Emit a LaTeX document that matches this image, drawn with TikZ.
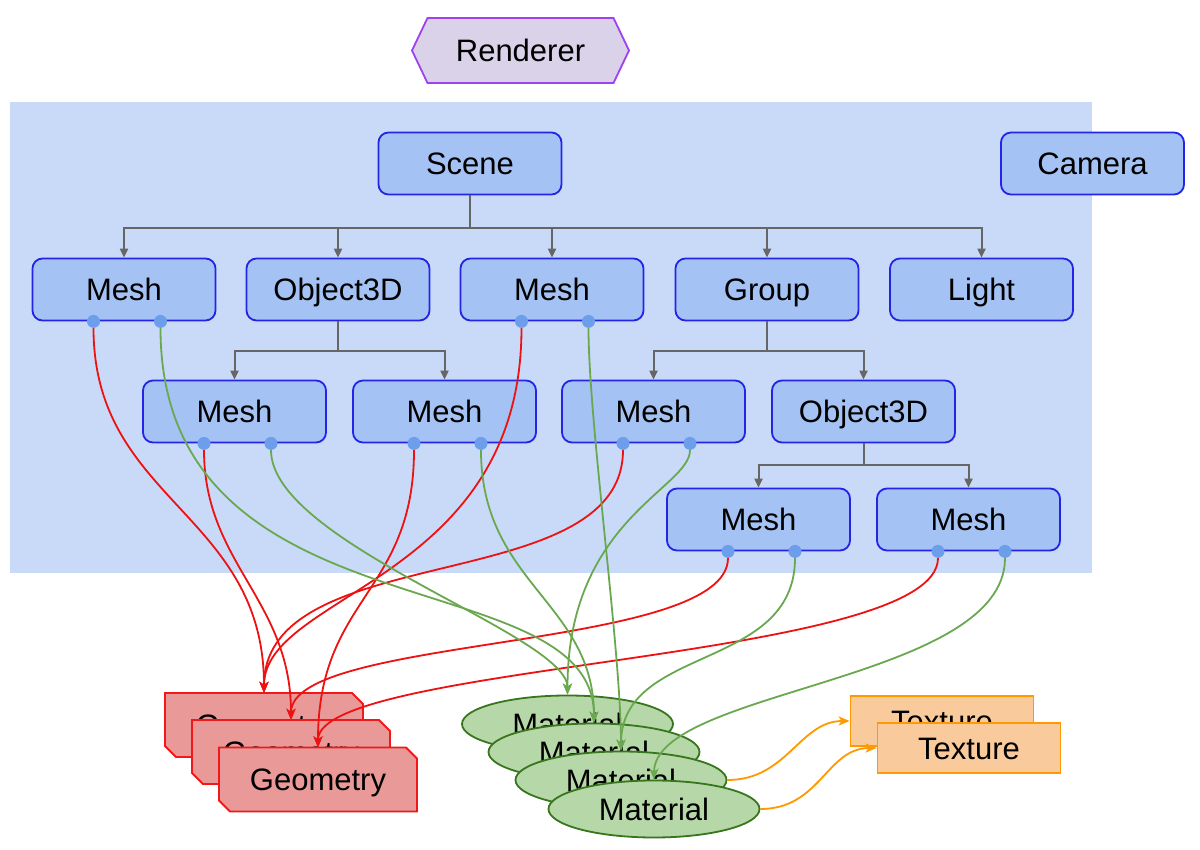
\documentclass[tikz,border=0pt]{standalone}
\usepackage{fontspec}
\setmainfont{Liberation Sans}
\usetikzlibrary{arrows.meta,shapes.geometric,calc}
\definecolor{panel}{HTML}{C9DAF8}
\definecolor{boxfill}{HTML}{A4C2F4}
\definecolor{boxline}{HTML}{2424E6}
\definecolor{portfill}{HTML}{6D9EEB}
\definecolor{treegray}{HTML}{666666}
\definecolor{rendfill}{HTML}{D9D2E9}
\definecolor{rendline}{HTML}{A040F0}
\definecolor{geofill}{HTML}{EA9999}
\definecolor{geoline}{HTML}{F01818}
\definecolor{redline}{HTML}{EE1111}
\definecolor{matfill}{HTML}{B6D7A8}
\definecolor{matline}{HTML}{38761D}
\definecolor{greenline}{HTML}{6AA84F}
\definecolor{texfill}{HTML}{F9CB9C}
\definecolor{texline}{HTML}{FF9900}
\begin{document}
\begin{tikzpicture}[x=1pt,y=-1pt,
  every node/.style={font=\fontsize{31}{37}\selectfont, text=black},
  lbl/.style={text height=24.5pt, text depth=2pt},
  box/.style={lbl, draw=boxline, fill=boxfill, rounded corners=10pt, line width=1.8pt,
    minimum width=183pt, minimum height=62pt, inner sep=0pt},
  port/.style={circle, fill=portfill, minimum size=13pt, inner sep=0pt},
  tree/.style={draw=treegray, line width=2pt, -{Triangle[length=9pt,width=8pt]}},
  geotext/.style={lbl, rectangle, minimum width=198pt, minimum height=64pt, inner sep=0pt},
  geoshape/.style={draw=geoline, fill=geofill, line width=1.8pt},
  mat/.style={lbl, ellipse, draw=matline, fill=matfill, line width=1.8pt,
    minimum width=211pt, minimum height=57pt, inner sep=0pt},
  tex/.style={lbl, rectangle, draw=texline, fill=texfill, line width=1.8pt,
    minimum width=183pt, minimum height=50pt, inner sep=0pt},
  redc/.style={draw=redline, line width=1.8pt, -{Stealth[length=11pt,width=9pt,inset=3pt]}},
  greenc/.style={draw=greenline, line width=1.8pt, -{Stealth[length=11pt,width=9pt,inset=3pt]}},
  orangec/.style={draw=texline, line width=1.8pt, -{Stealth[length=11pt,width=9pt,inset=3pt]}},
  rend/.style={draw=rendline, fill=rendfill, line width=1.8pt}
]
\useasboundingbox (0,0) rectangle (1200,850);
\fill[white] (0,0) rectangle (1200,850);
% panel
\fill[panel] (10,102) rectangle (1092,573);
% renderer
\coordinate (rc) at (520.5,50.5);
\filldraw[rend] ($(rc)+(-108.5,0)$) -- ($(rc)+(-93,-32.5)$) -- ($(rc)+(93,-32.5)$)
  -- ($(rc)+(108.5,0)$) -- ($(rc)+(93,32.5)$) -- ($(rc)+(-93,32.5)$) -- cycle;
\node[lbl] (renderer) at (rc) {Renderer};
% boxes
\node[box] (scene) at (470,163.5) {Scene};
\node[box] (camera) at (1092.5,163.5) {Camera};
\node[box] (mA) at (124,289.5) {Mesh};
\node[box] (objA) at (338,289.5) {Object3D};
\node[box] (mB) at (552,289.5) {Mesh};
\node[box] (group) at (767,289.5) {Group};
\node[box] (light) at (981.5,289.5) {Light};
\node[box] (mC) at (234.5,411.5) {Mesh};
\node[box] (mD) at (444.5,411.5) {Mesh};
\node[box] (mE) at (653.5,411.5) {Mesh};
\node[box] (objB) at (863.5,411.5) {Object3D};
\node[box] (mF) at (758.5,519.5) {Mesh};
\node[box] (mG) at (968.5,519.5) {Mesh};
% tree
\foreach \c in {mA,objA,mB,group,light}
  \draw[tree] (scene.south) -- ++(0,32.5) -| (\c.north);
\foreach \c in {mC,mD}
  \draw[tree] (objA.south) -- ++(0,30) -| (\c.north);
\foreach \c in {mE,objB}
  \draw[tree] (group.south) -- ++(0,30) -| (\c.north);
\foreach \c in {mF,mG}
  \draw[tree] (objB.south) -- ++(0,22) -| (\c.north);
% ports
\foreach \m in {mA,mB,mC,mD,mE,mF,mG}{
  \node[port] (\m-l) at ($(\m.south)+(-30.5,0)$) {};
  \node[port] (\m-r) at ($(\m.south)+(36.5,0)$) {};
}
% geometry stack
\foreach \n/\x/\y in {g1/264/725, g2/291/752, g3/318/779.5}{
  \filldraw[geoshape] (\x-99,\y-32) -- (\x+88,\y-32) -- (\x+99,\y-21) -- (\x+99,\y+32)
    -- (\x-88,\y+32) -- (\x-99,\y+21) -- cycle;
  \node[geotext] (\n) at (\x,\y) {Geometry};
}
% material stack
\node[mat] (ma1) at (567.5,724) {Material};
\node[mat] (ma2) at (594,752) {Material};
\node[mat] (ma3) at (621,780) {Material};
\node[mat] (ma4) at (654,809) {Material};
% textures
\node[tex] (t1) at (942,721) {Texture};
\node[tex] (t2) at (969,748) {Texture};
% red
\draw[redc] (mA-l) .. controls +(0,180) and +(0,-180) .. (g1.north);
\draw[redc] (mC-l) .. controls +(0,120) and +(0,-120) .. (g2.north);
\draw[redc] (mD-l) .. controls +(0,150) and +(0,-150) .. (g3.north);
\draw[redc] (mB-l) .. controls +(0,260) and +(0,-100) .. (g1.north);
\draw[redc] (mE-l) .. controls +(0,155) and +(0,-155) .. (g1.north);
\draw[redc] (mF-l) .. controls +(0,100) and +(0,-85) .. (g2.north);
\draw[redc] (mG-l) .. controls +(0,110) and +(0,-85) .. (g3.north);
% green
\draw[greenc] (mA-r) .. controls +(0,320) and +(0,-165) .. (ma2.north);
\draw[greenc] (mC-r) .. controls +(0,100) and +(0,-60) .. (ma1.north);
\draw[greenc] (mD-r) .. controls +(0,140) and +(0,-120) .. (ma2.north);
\draw[greenc] (mB-r) .. controls +(0,100) and +(0,-100) .. (ma3.north);
\draw[greenc] (mE-r) .. controls +(0,45) and +(0,-175) .. (ma1.north);
\draw[greenc] (mF-r) .. controls +(0,120) and +(0,-106) .. (ma3.north);
\draw[greenc] (mG-r) .. controls +(0,130) and +(0,-90) .. (ma4.north);
% orange
\draw[orangec] (ma3.east) .. controls +(60,0) and +(-50,0) .. (t1.west);
\draw[orangec] (ma4.east) .. controls +(60,0) and +(-50,0) .. (t2.west);
\end{tikzpicture}
\end{document}
